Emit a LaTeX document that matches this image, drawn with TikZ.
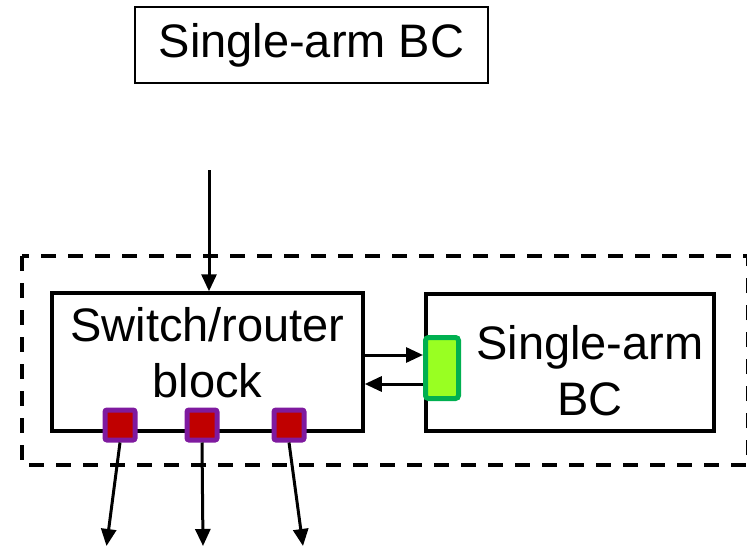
\documentclass[tikz,border=0pt]{standalone}
\usepackage{fontspec}
\setmainfont{Liberation Sans}
\usetikzlibrary{arrows.meta}
\definecolor{portred}{HTML}{C00000}
\definecolor{portpurple}{HTML}{7F1A9F}
\definecolor{portgreen}{HTML}{99FF22}
\definecolor{portgreenb}{HTML}{00B050}
\begin{document}
\begin{tikzpicture}[x=1pt,y=-1pt,
  bigtext/.style={font=\fontsize{47}{56}\selectfont, align=center},
  redport/.style={draw=portpurple, fill=portred, line width=5pt, rounded corners=2pt, minimum size=30pt, inner sep=0pt},
  greenport/.style={draw=portgreenb, fill=portgreen, line width=5pt, rounded corners=3pt, minimum width=33pt, minimum height=61pt, inner sep=0pt},
  conn/.style={line width=3pt, -{Triangle[length=17pt,width=15pt]}}
]
\useasboundingbox (0,0) rectangle (747,546);
% dashed enclosure
\begin{scope}
\clip (0,0) rectangle (747,546);
\draw[line width=3.3pt, dash pattern=on 15pt off 12pt] (22,256) rectangle (748,465);
\end{scope}
% top box
\node[draw=black, line width=1.8pt, minimum width=353pt, minimum height=76pt, bigtext, inner sep=0pt] (top) at (311.5,45) {Single-arm BC};
% switch block
\node[draw=black, line width=3.5pt, minimum width=311pt, minimum height=138pt, inner sep=0pt] (sw) at (207.5,362) {};
\node[bigtext] (swt) at (207.5,353) {Switch/router\\block};
% single-arm BC block
\node[draw=black, line width=3.5pt, minimum width=288pt, minimum height=137pt, inner sep=0pt] (bc) at (570,362.5) {};
\node[bigtext] (bct) at (590,371) {Single-arm\\BC};
% green port
\node[greenport] (gp) at (442,368) {};
% red ports
\node[redport] (p1) at (120,425) {};
\node[redport] (p2) at (202,425) {};
\node[redport] (p3) at (289,425) {};
% arrow coordinates
\coordinate (in) at (209,170);
\coordinate (o1) at (106.5,546);
\coordinate (o2) at (203,546);
\coordinate (o3) at (303,546);
\draw[conn] (in) -- (in |- sw.north);
\draw[conn] ([yshift=7pt]sw.east) -- ([yshift=7pt]sw.east -| gp.west);
\draw[conn] ([yshift=-22pt]sw.east -| gp.west) -- ([yshift=-22pt]sw.east);
\draw[conn] (p1.south) -- (o1);
\draw[conn] (p2.south) -- (o2);
\draw[conn] (p3.south) -- (o3);
\end{tikzpicture}
\end{document}
